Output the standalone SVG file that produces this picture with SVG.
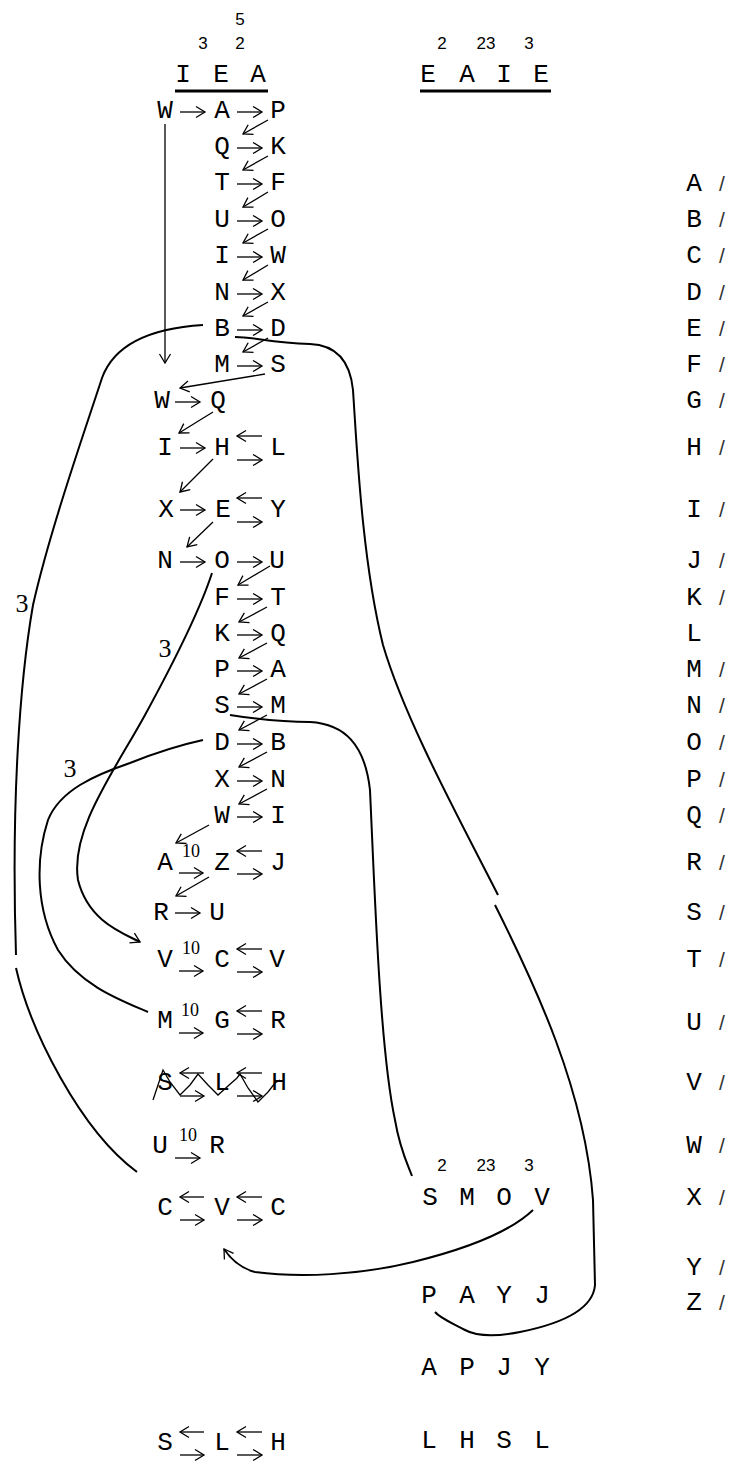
<svg xmlns="http://www.w3.org/2000/svg" width="731" height="1470" viewBox="0 0 731 1470">
<style>
.m{font-family:"Liberation Mono",monospace;font-size:26px;text-anchor:middle;fill:#000}
.s{font-family:"Liberation Sans",sans-serif;font-size:17px;text-anchor:middle;fill:#000}
.t{font-family:"Liberation Serif",serif;font-size:18px;text-anchor:middle;fill:#000}
.l{font-family:"Liberation Serif",serif;font-size:26px;text-anchor:middle;fill:#000}
.sl{font-family:"Liberation Sans",sans-serif;font-size:21px;text-anchor:middle;fill:#333}
.a{stroke:#000;stroke-width:1.3;fill:none;marker-end:url(#h)}
.c{stroke:#000;stroke-width:2;fill:none}
.u{stroke:#000;stroke-width:3}
.z{stroke:#000;stroke-width:1.3;fill:none}
</style>
<defs>
<marker id="h" markerUnits="userSpaceOnUse" markerWidth="12" markerHeight="14" refX="10" refY="7" orient="auto" overflow="visible"><path d="M1,1.5 L10,7 L1,12.5" fill="none" stroke="#000" stroke-width="1.3"/></marker>
</defs>
<rect width="731" height="1470" fill="#fff"/>

<g id="header-left">
<text class="s" x="240" y="25">5</text>
<text class="s" x="203" y="49">3</text><text class="s" x="240" y="49">2</text>
<text class="m" x="183" y="82">I</text><text class="m" x="221" y="82">E</text><text class="m" x="258" y="82">A</text>
<line class="u" x1="175" y1="91" x2="268" y2="91"/>
</g>
<g id="header-right">
<text class="s" x="442" y="49">2</text><text class="s" x="486" y="49">23</text><text class="s" x="529" y="49">3</text>
<text class="m" x="428" y="82">E</text><text class="m" x="467" y="82">A</text><text class="m" x="504" y="82">I</text><text class="m" x="541" y="82">E</text>
<line class="u" x1="420" y1="91" x2="551" y2="91"/>
</g>

<g id="r1"><text class="m" x="165" y="118">W</text><text class="m" x="222" y="118">A</text><text class="m" x="278" y="118">P</text>
<line class="a" x1="180" y1="112" x2="205" y2="112"/><line class="a" x1="237" y1="112" x2="262" y2="112"/></g>
<g id="r2"><text class="m" x="222" y="154">Q</text><text class="m" x="278" y="154">K</text><line class="a" x1="237" y1="148" x2="262" y2="148"/></g>
<g id="r3"><text class="m" x="222" y="190">T</text><text class="m" x="278" y="190">F</text><line class="a" x1="237" y1="184" x2="262" y2="184"/></g>
<g id="r4"><text class="m" x="222" y="227">U</text><text class="m" x="278" y="227">O</text><line class="a" x1="237" y1="221" x2="262" y2="221"/></g>
<g id="r5"><text class="m" x="222" y="263">I</text><text class="m" x="278" y="263">W</text><line class="a" x1="237" y1="257" x2="262" y2="257"/></g>
<g id="r6"><text class="m" x="222" y="300">N</text><text class="m" x="278" y="300">X</text><line class="a" x1="237" y1="294" x2="262" y2="294"/></g>
<g id="r7"><text class="m" x="222" y="336">B</text><text class="m" x="278" y="336">D</text><line class="a" x1="237" y1="330" x2="262" y2="330"/></g>
<g id="r8"><text class="m" x="222" y="372">M</text><text class="m" x="278" y="372">S</text><line class="a" x1="237" y1="366" x2="262" y2="366"/></g>
<g id="r9"><text class="m" x="162" y="408">W</text><text class="m" x="218" y="408">Q</text><line class="a" x1="175" y1="402" x2="200" y2="402"/></g>
<g id="r10"><text class="m" x="165" y="455">I</text><text class="m" x="222" y="455">H</text><text class="m" x="278" y="455">L</text>
<line class="a" x1="180" y1="448" x2="205" y2="448"/><line class="a" x1="262" y1="436" x2="237" y2="436"/><line class="a" x1="237" y1="460" x2="262" y2="460"/></g>
<g id="r11"><text class="m" x="166" y="517">X</text><text class="m" x="223" y="517">E</text><text class="m" x="278" y="517">Y</text>
<line class="a" x1="180" y1="510" x2="205" y2="510"/><line class="a" x1="262" y1="498" x2="237" y2="498"/><line class="a" x1="237" y1="522" x2="262" y2="522"/></g>
<g id="r12"><text class="m" x="165" y="568">N</text><text class="m" x="222" y="568">O</text><text class="m" x="277" y="568">U</text>
<line class="a" x1="180" y1="562" x2="205" y2="562"/><line class="a" x1="237" y1="562" x2="262" y2="562"/></g>
<g id="r13"><text class="m" x="222" y="605">F</text><text class="m" x="278" y="605">T</text><line class="a" x1="237" y1="599" x2="262" y2="599"/></g>
<g id="r14"><text class="m" x="222" y="641">K</text><text class="m" x="278" y="641">Q</text><line class="a" x1="237" y1="635" x2="262" y2="635"/></g>
<g id="r15"><text class="m" x="222" y="677">P</text><text class="m" x="278" y="677">A</text><line class="a" x1="237" y1="671" x2="262" y2="671"/></g>
<g id="r16"><text class="m" x="222" y="713">S</text><text class="m" x="278" y="713">M</text><line class="a" x1="237" y1="707" x2="262" y2="707"/></g>
<g id="r17"><text class="m" x="222" y="750">D</text><text class="m" x="278" y="750">B</text><line class="a" x1="237" y1="744" x2="262" y2="744"/></g>
<g id="r18"><text class="m" x="222" y="787">X</text><text class="m" x="278" y="787">N</text><line class="a" x1="237" y1="781" x2="262" y2="781"/></g>
<g id="r19"><text class="m" x="222" y="823">W</text><text class="m" x="278" y="823">I</text><line class="a" x1="237" y1="817" x2="262" y2="817"/></g>
<g id="r20"><text class="m" x="165" y="870">A</text><text class="t" x="191" y="857">10</text><text class="m" x="222" y="870">Z</text><text class="m" x="278" y="870">J</text>
<line class="a" x1="179" y1="873" x2="203" y2="873"/><line class="a" x1="262" y1="851" x2="237" y2="851"/><line class="a" x1="237" y1="874" x2="262" y2="874"/></g>
<g id="r21"><text class="m" x="161" y="920">R</text><text class="m" x="217" y="920">U</text><line class="a" x1="175" y1="913" x2="200" y2="913"/></g>
<g id="r22"><text class="m" x="165" y="967">V</text><text class="t" x="191" y="954">10</text><text class="m" x="222" y="967">C</text><text class="m" x="277" y="967">V</text>
<line class="a" x1="179" y1="971" x2="203" y2="971"/><line class="a" x1="262" y1="949" x2="237" y2="949"/><line class="a" x1="237" y1="972" x2="262" y2="972"/></g>
<g id="r23"><text class="m" x="165" y="1028">M</text><text class="t" x="190" y="1016">10</text><text class="m" x="222" y="1028">G</text><text class="m" x="278" y="1028">R</text>
<line class="a" x1="179" y1="1033" x2="203" y2="1033"/><line class="a" x1="262" y1="1011" x2="237" y2="1011"/><line class="a" x1="237" y1="1034" x2="262" y2="1034"/></g>
<g id="r24"><text class="m" x="165" y="1090">S</text><text class="m" x="222" y="1090">L</text><text class="m" x="279" y="1090">H</text>
<line class="a" x1="204" y1="1073" x2="180" y2="1073"/><line class="a" x1="180" y1="1096" x2="204" y2="1096"/>
<line class="a" x1="262" y1="1073" x2="237" y2="1073"/><line class="a" x1="237" y1="1096" x2="262" y2="1096"/>
<polyline class="z" points="153,1100 157,1088 163,1070 170,1082 180,1095 190,1085 198,1074 208,1085 218,1095 228,1086 237,1078 240,1074 248,1088 258,1102 263,1097 268,1092 275,1083 280,1080"/></g>
<g id="r25"><text class="m" x="160" y="1153">U</text><text class="t" x="188" y="1141">10</text><text class="m" x="217" y="1153">R</text><line class="a" x1="175" y1="1158" x2="200" y2="1158"/></g>
<g id="r26"><text class="m" x="165" y="1215">C</text><text class="m" x="222" y="1215">V</text><text class="m" x="278" y="1215">C</text>
<line class="a" x1="204" y1="1197" x2="180" y2="1197"/><line class="a" x1="180" y1="1220" x2="204" y2="1220"/>
<line class="a" x1="262" y1="1197" x2="237" y2="1197"/><line class="a" x1="237" y1="1220" x2="262" y2="1220"/></g>
<g id="r27"><text class="m" x="165" y="1450">S</text><text class="m" x="222" y="1450">L</text><text class="m" x="278" y="1450">H</text>
<line class="a" x1="204" y1="1432" x2="180" y2="1432"/><line class="a" x1="180" y1="1455" x2="204" y2="1455"/>
<line class="a" x1="262" y1="1432" x2="237" y2="1432"/><line class="a" x1="237" y1="1455" x2="262" y2="1455"/></g>

<g id="mid-SMOV">
<text class="s" x="442" y="1171">2</text><text class="s" x="486" y="1171">23</text><text class="s" x="529" y="1171">3</text>
<text class="m" x="430" y="1205">S</text><text class="m" x="467" y="1205">M</text><text class="m" x="504" y="1205">O</text><text class="m" x="542" y="1205">V</text></g>
<g id="mid-PAYJ"><text class="m" x="429" y="1303">P</text><text class="m" x="467" y="1303">A</text><text class="m" x="504" y="1303">Y</text><text class="m" x="542" y="1303">J</text></g>
<g id="mid-APJY"><text class="m" x="429" y="1375">A</text><text class="m" x="467" y="1375">P</text><text class="m" x="504" y="1375">J</text><text class="m" x="542" y="1375">Y</text></g>
<g id="mid-LHSL"><text class="m" x="429" y="1448">L</text><text class="m" x="467" y="1448">H</text><text class="m" x="504" y="1448">S</text><text class="m" x="542" y="1448">L</text></g>

<g id="alphabet">
<text class="m" x="694" y="191">A</text><text class="sl" x="722" y="191">/</text>
<text class="m" x="694" y="227">B</text><text class="sl" x="722" y="227">/</text>
<text class="m" x="694" y="263">C</text><text class="sl" x="722" y="263">/</text>
<text class="m" x="694" y="300">D</text><text class="sl" x="722" y="300">/</text>
<text class="m" x="694" y="336">E</text><text class="sl" x="722" y="336">/</text>
<text class="m" x="694" y="372">F</text><text class="sl" x="722" y="372">/</text>
<text class="m" x="694" y="408">G</text><text class="sl" x="722" y="408">/</text>
<text class="m" x="694" y="455">H</text><text class="sl" x="722" y="455">/</text>
<text class="m" x="694" y="517">I</text><text class="sl" x="722" y="517">/</text>
<text class="m" x="694" y="568">J</text><text class="sl" x="722" y="568">/</text>
<text class="m" x="694" y="605">K</text><text class="sl" x="722" y="605">/</text>
<text class="m" x="694" y="641">L</text>
<text class="m" x="694" y="677">M</text><text class="sl" x="722" y="677">/</text>
<text class="m" x="694" y="713">N</text><text class="sl" x="722" y="713">/</text>
<text class="m" x="694" y="750">O</text><text class="sl" x="722" y="750">/</text>
<text class="m" x="694" y="787">P</text><text class="sl" x="722" y="787">/</text>
<text class="m" x="694" y="823">Q</text><text class="sl" x="722" y="823">/</text>
<text class="m" x="694" y="870">R</text><text class="sl" x="722" y="870">/</text>
<text class="m" x="694" y="920">S</text><text class="sl" x="722" y="920">/</text>
<text class="m" x="694" y="967">T</text><text class="sl" x="722" y="967">/</text>
<text class="m" x="694" y="1030">U</text><text class="sl" x="722" y="1030">/</text>
<text class="m" x="694" y="1090">V</text><text class="sl" x="722" y="1090">/</text>
<text class="m" x="694" y="1153">W</text><text class="sl" x="722" y="1153">/</text>
<text class="m" x="694" y="1205">X</text><text class="sl" x="722" y="1205">/</text>
<text class="m" x="694" y="1275">Y</text><text class="sl" x="722" y="1275">/</text>
<text class="m" x="694" y="1310">Z</text><text class="sl" x="722" y="1310">/</text>
</g>

<g id="connectors">
<line class="a" x1="165" y1="124" x2="165" y2="363"/>
<line class="a" x1="268" y1="120" x2="243" y2="134"/>
<line class="a" x1="268" y1="156" x2="243" y2="170"/>
<line class="a" x1="268" y1="192" x2="243" y2="207"/>
<line class="a" x1="268" y1="229" x2="243" y2="243"/>
<line class="a" x1="268" y1="265" x2="243" y2="280"/>
<line class="a" x1="268" y1="302" x2="243" y2="316"/>
<line class="a" x1="268" y1="338" x2="243" y2="352"/>
<line class="a" x1="265" y1="374" x2="180" y2="388"/>
<line class="a" x1="213" y1="412" x2="179" y2="433"/>
<line class="a" x1="213" y1="459" x2="180" y2="492"/>
<line class="a" x1="213" y1="522" x2="187" y2="547"/>
<line class="a" x1="270" y1="566" x2="238" y2="585"/>
<line class="a" x1="267" y1="607" x2="239" y2="622"/>
<line class="a" x1="267" y1="643" x2="239" y2="658"/>
<line class="a" x1="267" y1="679" x2="239" y2="694"/>
<line class="a" x1="267" y1="715" x2="239" y2="730"/>
<line class="a" x1="267" y1="752" x2="239" y2="767"/>
<line class="a" x1="267" y1="789" x2="239" y2="804"/>
<line class="a" x1="209" y1="825" x2="176" y2="843"/>
<line class="a" x1="209" y1="877" x2="176" y2="896"/>
<path class="c" d="M203,325 C155,328 115,342 102,378 C85,430 50,530 33,605 C20,680 11,800 16,955"/>
<path class="c" d="M16,968 C30,1030 80,1130 137,1172"/>
<path class="c" d="M235,337 C255,337 270,343 310,344 C335,345 350,360 353,390 C357,450 362,560 383,645 C405,720 460,820 498,895"/>
<path class="c" d="M495,905 C535,985 585,1090 593,1200 L595,1285 C593,1310 560,1324 520,1332 C500,1336 480,1338 465,1330 C450,1322 440,1318 435,1312"/>
<path class="c" d="M230,715 C250,718 280,722 310,722 C345,724 365,745 370,790 C375,900 380,1050 395,1120 C400,1150 408,1165 412,1176"/>
<path class="c" d="M212,573 C200,610 175,660 145,715 C115,770 70,830 78,880 C88,920 120,932 140,942" marker-end="url(#h)"/>
<path class="c" d="M203,740 C180,745 150,755 130,763 C95,775 60,790 48,820 C35,860 36,910 58,950 C80,985 120,1000 148,1012"/>
<path class="c" d="M533,1210 C510,1232 470,1248 413,1262 C360,1275 300,1278 255,1272 C240,1268 230,1258 224,1249" marker-end="url(#h)"/>
<text class="l" x="22" y="612">3</text>
<text class="l" x="165" y="657">3</text>
<text class="l" x="70" y="777">3</text>
</g>
</svg>
